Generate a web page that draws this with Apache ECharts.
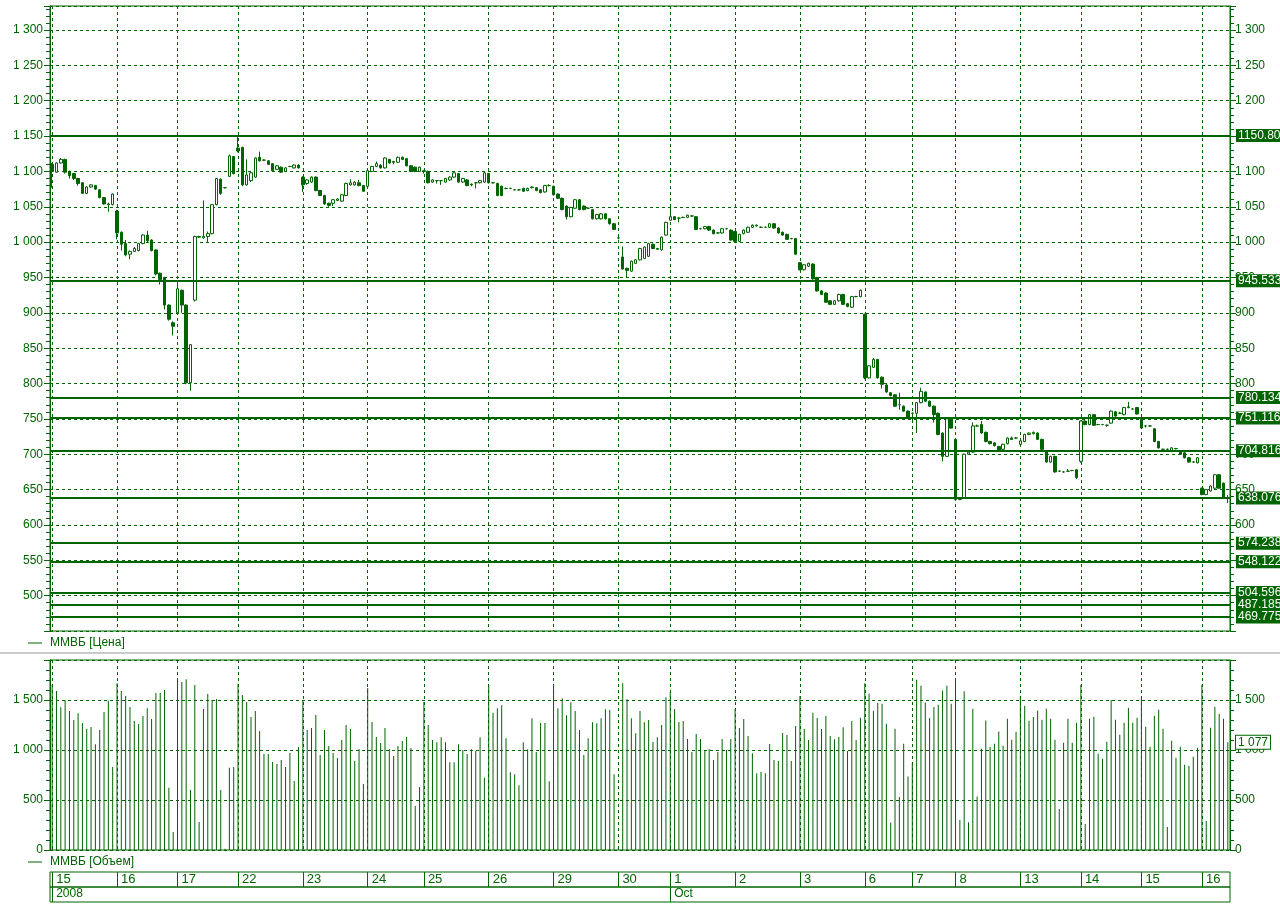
<!DOCTYPE html>
<html><head><meta charset="utf-8">
<script src="https://cdn.jsdelivr.net/npm/echarts@6/dist/echarts.min.js"></script>
<style>html,body{margin:0;padding:0;background:#fff}#c{width:1280px;height:908px}</style>
</head><body><div id="c"></div>
<script>
// ---- data ----
const dayLabels = ['15','16','17','22','23','24','25','26','29','30','1','2','3','6','7','8','13','14','15','16'];
const dayBars   = [15,14,14,15,15,13,15,15,15,12,15,15,15,11,10,15,14,14,14,7];
const periodLabels = [{day:0, text:'2008'}, {day:10, text:'Oct'}];
const levels = ['1150.809', '945.5334', '780.1341', '751.1161', '704.8164', '638.0763', '574.2386', '548.1223', '504.5962', '487.1857', '469.7752'];
const lastVolume = 1077;

// [open, close, low, high]
const ohlc = [
// 15 Sep
[1110,1100,1077,1112],[1099,1112,1098,1113],[1112,1117,1111,1119],[1117,1099,1097,1118],[1100,1094,1090,1101],
[1097,1090,1088,1098],[1090,1083,1080,1091],[1084,1069,1068,1085],[1069,1078,1068,1079],[1078,1081,1077,1082],
[1080,1075,1074,1081],[1074,1063,1062,1075],[1063,1054,1053,1064],[1054,1053,1043,1056],[1053,1068,1052,1069],
// 16
[1044,1013,1004,1046],[1014,997,988,1015],[998,982,980,1003],[983,987,976,988],[987,991,986,993],
[988,998,987,999],[998,1010,997,1011],[1010,1002,1000,1016],[1003,988,987,1004],[989,955,953,990],
[956,947,940,957],[950,911,905,951],[911,891,889,912],[886,881,868,888],
// 17
[900,934,898,944],[932,911,900,933],[911,801,799,912],[801,855,790,856],[918,1008,916,1009],
[1007,1008,1006,1009],[1006,1008,1005,1059],[1008,1012,1000,1015],[1012,1053,1011,1054],[1053,1090,1052,1091],
[1089,1069,1067,1090],[1077,1077,1076,1078],[1093,1122,1092,1124],[1121,1097,1096,1122],
// 22
[1133,1129,1127,1151],[1134,1081,1079,1135],[1081,1095,1080,1117],[1087,1098,1085,1099],[1092,1119,1091,1120],
[1120,1115,1114,1128],[1116,1116,1115,1117],[1115,1110,1109,1116],[1111,1101,1100,1112],[1103,1108,1102,1109],
[1106,1099,1098,1107],[1100,1105,1099,1106],[1107,1107,1106,1108],[1105,1109,1104,1110],[1109,1105,1104,1110],
// 23
[1092,1081,1071,1093],[1083,1088,1081,1089],[1085,1092,1084,1093],[1092,1073,1072,1093],[1073,1066,1065,1074],
[1066,1054,1053,1067],[1055,1052,1050,1056],[1055,1060,1051,1061],[1059,1061,1058,1062],[1058,1067,1057,1068],
[1066,1083,1065,1084],[1081,1084,1080,1089],[1081,1085,1080,1086],[1084,1080,1079,1088],[1080,1072,1071,1081],
// 24
[1079,1101,1078,1102],[1100,1107,1099,1108],[1107,1111,1106,1114],[1109,1105,1104,1110],[1105,1119,1104,1120],
[1117,1112,1111,1118],[1114,1113,1110,1115],[1113,1120,1112,1121],[1120,1117,1116,1121],[1118,1108,1107,1119],
[1108,1100,1099,1109],[1106,1100,1099,1107],[1100,1106,1099,1107],
// 25
[1101,1100,1097,1102],[1100,1084,1083,1101],[1085,1088,1084,1089],[1087,1087,1083,1088],[1087,1087,1081,1088],
[1085,1090,1084,1091],[1088,1092,1087,1093],[1092,1098,1091,1099],[1097,1085,1084,1098],[1085,1090,1084,1091],
[1088,1080,1079,1089],[1082,1081,1079,1083],[1084,1084,1076,1085],[1084,1087,1083,1088],[1085,1098,1084,1099],
// 26
[1097,1084,1083,1098],[1084,1084,1083,1085],[1083,1066,1065,1084],[1079,1066,1065,1080],[1076,1076,1075,1077],
[1076,1076,1075,1077],[1074,1074,1073,1075],[1074,1074,1073,1075],[1076,1072,1071,1077],[1073,1076,1072,1077],
[1077,1078,1076,1079],[1077,1073,1072,1078],[1074,1070,1069,1075],[1071,1080,1070,1081],[1080,1080,1079,1082],
// 29
[1079,1067,1066,1080],[1068,1062,1061,1069],[1062,1046,1045,1063],[1051,1036,1032,1052],[1036,1049,1035,1050],
[1048,1060,1047,1061],[1060,1046,1045,1061],[1051,1046,1045,1052],[1048,1048,1047,1049],[1046,1033,1032,1047],
[1033,1039,1032,1040],[1033,1040,1032,1041],[1040,1033,1032,1041],[1033,1026,1025,1034],[1026,1018,1017,1027],
// 30
[1006,1006,1004,1007],[979,962,961,994],[963,960,950,964],[959,973,958,974],[970,975,969,976],
[975,991,974,992],[977,993,976,994],[980,998,979,999],[997,991,990,998],[991,990,989,992],
[989,1007,988,1008],[1010,1028,1009,1029],
// 1 Oct
[1031,1036,1030,1049],[1036,1032,1031,1037],[1034,1034,1028,1035],[1035,1035,1034,1036],[1035,1038,1034,1039],
[1037,1037,1036,1038],[1036,1018,1017,1037],[1019,1019,1018,1020],[1019,1022,1018,1023],[1022,1017,1016,1023],
[1017,1012,1011,1018],[1013,1013,1012,1014],[1013,1019,1012,1020],[1019,1019,1018,1020],[1017,1003,1002,1018],
// 2
[1015,1001,1000,1016],[1001,1011,1000,1012],[1012,1017,1011,1018],[1014,1021,1013,1022],[1021,1024,1020,1025],
[1023,1024,1022,1025],[1021,1021,1020,1022],[1021,1021,1020,1022],[1021,1026,1020,1027],[1026,1020,1019,1027],
[1020,1013,1012,1021],[1014,1010,1009,1015],[1011,1004,1003,1012],[1005,1005,1004,1006],[1005,983,982,1006],
// 3
[971,961,960,972],[961,968,960,969],[966,970,965,971],[969,948,947,970],[950,931,930,951],
[931,926,925,932],[928,915,914,929],[917,912,911,918],[912,917,911,918],[917,926,916,927],
[926,912,911,927],[913,909,908,914],[908,923,907,924],[923,923,922,924],[923,932,922,933],
// 6
[898,808,806,899],[808,825,807,826],[823,834,822,836],[834,808,807,835],[809,799,793,810],
[798,788,787,799],[787,783,782,788],[784,768,767,785],[770,770,763,787],[768,761,760,769],[761,751,750,762],
// 7
[758,758,747,759],[758,773,730,774],[773,789,772,794],[788,775,774,789],[775,768,767,776],
[768,756,745,769],[758,728,727,759],[730,697,690,731],[697,750,696,751],[750,737,736,751],
// 8
[721,636,634,722],[636,638,635,639],[638,700,637,701],[700,703,699,704],[703,740,702,745],
[740,740,739,742],[742,730,729,747],[731,718,717,732],[718,715,714,719],[716,712,711,717],
[711,705,704,712],[707,714,706,715],[715,723,714,724],[723,721,720,725],[723,723,722,724],
// 13
[714,719,713,720],[718,728,717,729],[728,730,727,731],[729,731,728,732],[730,721,720,731],
[721,707,706,722],[704,689,688,705],[689,697,688,698],[697,675,674,698],[676,676,675,677],
[675,675,674,676],[676,676,675,679],[677,677,676,678],[678,667,665,679],
// 14
[690,747,688,748],[747,742,741,748],[742,756,741,757],[756,741,740,757],[742,742,741,743],
[742,742,741,743],[741,741,739,742],[744,761,743,762],[760,754,753,761],[758,758,757,760],
[756,766,755,767],[766,767,765,774],[764,764,763,765],[766,757,756,767],
// 15
[749,737,736,750],[740,740,738,741],[740,740,739,741],[736,718,717,737],[718,709,708,719],
[707,707,706,708],[707,707,706,708],[704,709,703,710],[708,708,707,709],[704,700,699,705],
[702,695,694,703],[695,689,688,696],[689,689,688,690],[688,695,687,696],
// 16
[652,643,642,653],[643,650,642,651],[648,655,647,656],[652,671,651,672],[671,652,651,672],
[659,638,637,660],[638,638,631,642]
];

const volume = [
// 15 Sep
1650,1590,1427,1500,1390,1300,1367,1270,1210,1230,1057,1200,1380,1493,830,
// 16
1667,1590,1540,1430,1290,1260,1340,1417,1310,1570,1570,1600,623,180,
// 17
1710,1680,1707,600,1650,280,1410,1560,1500,1510,600,13,823,830,
// 22
1660,1550,1480,1330,1390,1190,960,960,880,860,900,830,970,690,1030,
// 23
1500,1200,1220,1350,950,1200,1040,970,920,1100,1250,1210,890,1010,660,
// 24
1620,1280,1130,1070,1220,1010,940,1040,1090,1130,1020,440,630,
// 25
1480,1250,1100,1077,1127,1077,877,877,1057,1000,960,1007,990,1127,723,
// 26
1650,1373,1417,1447,1117,777,757,647,1077,1007,1317,980,1270,1270,687,
// 29
1650,1417,1517,1347,1477,1390,1200,950,1117,1277,1267,1317,1407,1400,757,
// 30
20,1667,1507,1317,1167,1390,1277,1300,1080,1127,1250,1527,
// 1 Oct
1583,1410,1280,1290,1110,980,1160,1110,1000,1010,900,980,1110,1000,1110,
// 2
1410,1220,1310,1140,967,767,780,767,1060,900,890,1170,1150,890,1240,
// 3
1540,1210,1100,1373,1320,1210,1340,1140,1107,1130,1227,990,1290,1100,1323,
// 6
1667,1563,1393,1470,1463,1263,274,1212,531,1062,735,
// 7
868,1703,1643,1476,1319,1429,1453,1596,1643,1463,
// 8
1710,300,1587,277,1413,534,1012,1296,1029,1062,1186,1042,1313,1102,1182,
// 13
1543,1443,1293,1329,1396,1303,1413,1313,1102,411,1072,1313,1072,1273,
// 14
1653,260,1313,1333,962,912,1082,1500,1303,1152,1273,1423,1273,1323,
// 15
1530,1233,1032,1343,1403,1212,230,1092,922,1032,852,842,932,1022,
// 16
1653,291,1222,1433,1363,1313,1077
];

// ---- build categories ----
const categories = [];
const dayStartLabel = {};
const dayStarts = new Set();
dayLabels.forEach((d, di) => {
  dayStarts.add(categories.length);
  dayStartLabel[categories.length] = d;
  for (let j = 0; j < dayBars[di]; j++) categories.push(di + ':' + j);
});
const periodStart = {};
periodLabels.forEach(p => {
  let idx = 0; for (let k = 0; k < p.day; k++) idx += dayBars[k];
  periodStart[idx] = p.text;
});

const G = '#006400';
const FONT = 'Liberation Sans, Arial, sans-serif';
const fmt = v => v >= 1000 ? Math.floor(v/1000) + ' ' + String(v % 1000).padStart(3,'0') : String(v);
const dash = [3,3];

const chart = echarts.init(document.getElementById('c'), null, {renderer:'canvas'});

function catAxis(grid, extra) {
  return Object.assign({
    type:'category', gridIndex:grid, data:categories, boundaryGap:true,
    axisLine:{show:false}, axisTick:{show:false}, axisLabel:{show:false},
    splitLine:{show:true, alignWithLabel:true, interval:(i)=>dayStarts.has(i), lineStyle:{color:G, type:dash, width:1}}
  }, extra || {});
}
function valAxis(grid, pos, min, max, interval, labelFn, showSplit) {
  return {
    type:'value', gridIndex:grid, position:pos, min:min, max:max, interval:interval,
    axisLine:{show:true, lineStyle:{color:G}},
    axisTick:{show:true, length:6, lineStyle:{color:G}},
    minorTick:{show:true, splitNumber:5, length:4, lineStyle:{color:G}},
    axisLabel:{color:G, fontFamily:FONT, fontSize:12, margin:pos==='left'?7:5, formatter:labelFn},
    splitLine:{show:showSplit, lineStyle:{color:G, type:dash, width:1}}
  };
}

const priceLbl = v => (v % 50 === 0 && v >= 500 && v <= 1300) ? fmt(v) : '';
const volLbl = v => (v % 500 === 0 && v <= 1500) ? fmt(v) : '';

const option = {
  animation:false,
  backgroundColor:'#fff',
  textStyle:{fontFamily:FONT},
  grid:[
    {left:50, width:1180, top:6, height:625, show:true, borderColor:G, borderWidth:1, backgroundColor:'transparent'},
    {left:50, width:1180, top:660, height:190, show:true, borderColor:G, borderWidth:1, backgroundColor:'transparent'},
    {left:50, width:1180, top:872, height:15, show:true, borderColor:G, borderWidth:1, backgroundColor:'transparent'},
    {left:50, width:1180, top:887, height:15, show:true, borderColor:G, borderWidth:1, backgroundColor:'transparent'}
  ],
  xAxis:[
    catAxis(0),
    catAxis(1),
    catAxis(2, {position:'top',
      splitLine:{show:true, alignWithLabel:true, interval:(i)=>dayStarts.has(i), lineStyle:{color:G, width:1}},
      axisLabel:{show:true, inside:true, margin:1, align:'left', padding:[0,0,0,4], color:G, fontFamily:FONT, fontSize:13,
        interval:(i)=>dayStarts.has(i), formatter:(v,i)=>dayStartLabel[i]||''}}),
    catAxis(3, {position:'top',
      splitLine:{show:true, alignWithLabel:true, interval:(i)=>periodStart[i]!==undefined, lineStyle:{color:G, width:1}},
      axisLabel:{show:true, inside:true, margin:1, align:'left', padding:[0,0,0,4], color:G, fontFamily:FONT, fontSize:12,
        interval:(i)=>periodStart[i]!==undefined, formatter:(v,i)=>periodStart[i]||''}})
  ],
  yAxis:[
    valAxis(0,'left',450,1334,50,priceLbl,true),
    valAxis(0,'right',450,1334,50,priceLbl,false),
    valAxis(1,'left',0,1900,500,volLbl,true),
    valAxis(1,'right',0,1900,500,volLbl,false),
    {type:'value', gridIndex:2, show:false}, {type:'value', gridIndex:3, show:false}
  ],
  legend:[
    {left:28, top:637, padding:0, itemWidth:14, itemHeight:1, icon:'rect', selectedMode:false,
     itemStyle:{color:G, borderWidth:0},
     textStyle:{color:G, fontFamily:FONT, fontSize:12, padding:[0,0,0,3]},
     data:[{name:'ММВБ [Цена]', itemStyle:{color:G, borderWidth:0}}]},
    {left:28, top:856, padding:0, itemWidth:14, itemHeight:1, icon:'rect', selectedMode:false,
     itemStyle:{color:G, borderWidth:0},
     textStyle:{color:G, fontFamily:FONT, fontSize:12, padding:[0,0,0,3]},
     data:[{name:'ММВБ [Объем]', itemStyle:{color:G, borderWidth:0}}]}
  ],
  graphic:[
    {type:'line', shape:{x1:0, y1:653, x2:1280, y2:653}, style:{stroke:'#b8b8b8', lineWidth:1.5}, silent:true}
  ],
  series:[
    {name:'ММВБ [Цена]', type:'candlestick', xAxisIndex:0, yAxisIndex:0, data:ohlc, barWidth:3,
     itemStyle:{color:'#ffffff', color0:G, borderColor:G, borderColor0:G, borderWidth:1},
     markLine:{silent:true, symbol:['none','none'], animation:false,
       lineStyle:{color:G, width:2, type:'solid'},
       label:{show:true, position:'end', distance:6, formatter:p=>levels[p.dataIndex], color:'#fff', backgroundColor:G,
              fontFamily:FONT, fontSize:12, padding:[1,1,0,2]},
       emphasis:{disabled:true},
       data:levels.map(v=>({yAxis:Number(v)}))}},
    {name:'ММВБ [Объем]', type:'bar', xAxisIndex:1, yAxisIndex:2, data:volume, barWidth:1,
     itemStyle:{color:G},
     markLine:{silent:true, symbol:['none','none'], animation:false,
       lineStyle:{color:'rgba(0,0,0,0)', width:1},
       label:{show:true, position:'end', distance:6, formatter:()=>fmt(lastVolume), color:G, backgroundColor:'#fff',
              borderColor:G, borderWidth:1, fontFamily:FONT, fontSize:12, padding:[1,2,0,2]},
       emphasis:{disabled:true},
       data:[{yAxis:lastVolume}]}}
  ]
};
chart.setOption(option);
</script>
</body></html>
